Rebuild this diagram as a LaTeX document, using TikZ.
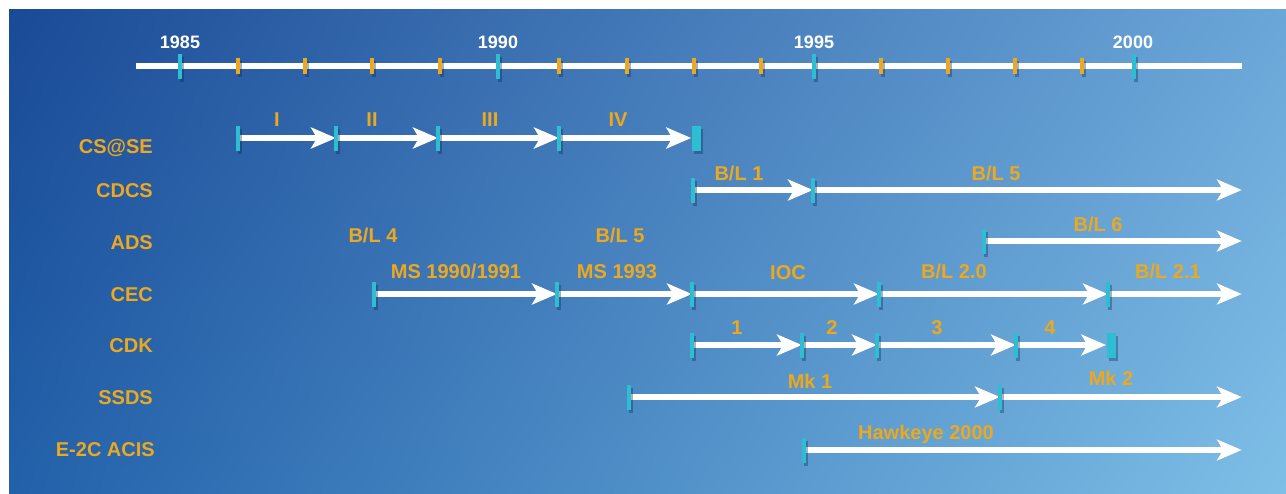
\documentclass[tikz,border=0pt]{standalone}
\usepackage{fontspec}
\setmainfont{Liberation Sans}
\usetikzlibrary{arrows.meta,shadows,shadings}
\definecolor{bgUL}{HTML}{1A4A96}
\definecolor{bgLL}{HTML}{2261AA}
\definecolor{bgUR}{HTML}{6BA6D8}
\definecolor{bgLR}{HTML}{7EBFE7}
\definecolor{gold}{HTML}{EDA81E}
\definecolor{tickc}{HTML}{2DBED4}
\definecolor{shad}{HTML}{0B2452}
\pgfdeclarelayer{deep}
\pgfdeclarelayer{back}
\pgfsetlayers{deep,back,main}
\tikzset{
  lbl/.style={font=\bfseries\fontsize{20}{20}\selectfont, text=gold, inner sep=0pt, text height=14.3pt, text depth=0pt},
  rowlbl/.style={lbl, anchor=east},
  yr/.style={font=\bfseries\fontsize{18}{18}\selectfont, text=white, inner sep=0pt, text height=12.9pt, text depth=0pt},
  seg/.style={draw=white, line width=6pt, -{Stealth[length=25pt,width=21pt,inset=6pt]}},
  segsh/.style={seg, draw=shad, opacity=.35, shift={(2,3)}},
  plainline/.style={draw=white, line width=6pt},
  plainsh/.style={plainline, draw=shad, opacity=.35, shift={(2,3)}},
  tsh/.style={drop shadow={shadow xshift=2pt, shadow yshift=-3pt, opacity=.35, fill=shad}},
  majtick/.style={rectangle, fill=tickc, minimum width=4pt, minimum height=25pt, inner sep=0pt, tsh},
  mintick/.style={rectangle, fill=gold, minimum width=3.5pt, minimum height=16pt, inner sep=0pt, tsh},
  rtick/.style={rectangle, fill=tickc, minimum width=4.5pt, minimum height=25pt, inner sep=0pt, tsh},
  endbar/.style={rectangle, fill=tickc, minimum width=9pt, minimum height=25pt, inner sep=0pt, tsh}
}
\newcommand\myarrow[2]{%
  \draw[segsh] (#1) -- (#2);
  \draw[seg] (#1) -- (#2);}
\begin{document}
\begin{tikzpicture}[x=1pt,y=-1pt]
\useasboundingbox (0,0) rectangle (1286,493);
\begin{pgfonlayer}{deep}
  \fill[white] (0,0) rectangle (1286,493);
  \shade[upper left=bgUL, upper right=bgUR, lower left=bgLL, lower right=bgLR] (9,9) rectangle (1286,493);
\end{pgfonlayer}

% time axis
\coordinate (axL) at (136,66);
\coordinate (axR) at (1242,66);
\begin{pgfonlayer}{back}
  \draw[plainsh] (axL) -- (axR);
  \draw[plainline] (axL) -- (axR);
\end{pgfonlayer}
\foreach \x/\n in {180/m85,498/m90,814/m95,1134/m00}
  \node[majtick] (\n) at (\x,66) {};
\foreach \x [count=\i] in {238,305,372,440,559,627,694,761,881,948,1015,1082}
  \node[mintick] (n\i) at (\x,66) {};
\node[yr] (y85) at (180,42) {1985};
\node[yr] (y90) at (498,42) {1990};
\node[yr] (y95) at (814,42) {1995};
\node[yr] (y00) at (1133,42) {2000};

% row labels
\node[rowlbl] (rCS) at (153,146) {CS@SE};
\node[rowlbl] (rCD) at (153,190) {CDCS};
\node[rowlbl] (rAD) at (153,242) {ADS};
\node[rowlbl] (rCE) at (153,294) {CEC};
\node[rowlbl] (rCK) at (153,345) {CDK};
\node[rowlbl] (rSS) at (153,397) {SSDS};
\node[rowlbl] (rAC) at (155,449) {E-2C ACIS};

% CS@SE
\node[rtick] (cs0) at (238,138) {};
\node[rtick] (cs1) at (336,138) {};
\node[rtick] (cs2) at (438,138) {};
\node[rtick] (cs3) at (559,138) {};
\node[endbar] (cs4) at (696,138) {};
% CDCS
\node[rtick] (cd0) at (693,190) {};
\node[rtick] (cd1) at (813,190) {};
\coordinate (cdE) at (1242,190);
% ADS
\node[rtick] (ad0) at (984,241) {};
\coordinate (adE) at (1242,241);
% CEC
\node[rtick] (ce0) at (374,294) {};
\node[rtick] (ce1) at (557,294) {};
\node[rtick] (ce2) at (692,294) {};
\node[rtick] (ce3) at (879,294) {};
\node[rtick] (ce4) at (1108,294) {};
\coordinate (ceE) at (1242,294);
% CDK
\node[rtick] (ck0) at (692,345) {};
\node[rtick] (ck1) at (802,345) {};
\node[rtick] (ck2) at (877,345) {};
\node[rtick] (ck3) at (1016,345) {};
\node[endbar] (ck4) at (1111,345) {};
% SSDS
\node[rtick] (ss0) at (629,397) {};
\node[rtick] (ss1) at (1000,397) {};
\coordinate (ssE) at (1242,397);
% E-2C ACIS
\node[rtick] (ac0) at (804,450) {};
\coordinate (acE) at (1242,450);

\begin{pgfonlayer}{back}
  \myarrow{cs0.center}{cs1.center}
  \myarrow{cs1.center}{cs2.center}
  \myarrow{cs2.center}{cs3.center}
  \myarrow{cs3.center}{cs4.west}
  \myarrow{cd0.center}{cd1.center}
  \myarrow{cd1.center}{cdE}
  \myarrow{ad0.center}{adE}
  \myarrow{ce0.center}{ce1.center}
  \myarrow{ce1.center}{ce2.center}
  \myarrow{ce2.center}{ce3.center}
  \myarrow{ce3.center}{ce4.center}
  \myarrow{ce4.center}{ceE}
  \myarrow{ck0.center}{ck1.center}
  \myarrow{ck1.center}{ck2.center}
  \myarrow{ck2.center}{ck3.center}
  \myarrow{ck3.center}{ck4.west}
  \myarrow{ss0.center}{ss1.center}
  \myarrow{ss1.center}{ssE}
  \myarrow{ac0.center}{acE}
\end{pgfonlayer}

% segment labels
\node[lbl] (lI)   at (277,119) {I};
\node[lbl] (lII)  at (372,119) {II};
\node[lbl] (lIII) at (490,119) {III};
\node[lbl] (lIV)  at (618,119) {IV};
\node[lbl] (lB1)  at (739,173) {B/L 1};
\node[lbl] (lB5a) at (996,173) {B/L 5};
\node[lbl] (lB6)  at (1098,224) {B/L 6};
\node[lbl] (lB4)  at (373,235) {B/L 4};
\node[lbl] (lB5b) at (620,235) {B/L 5};
\node[lbl] (lMS1) at (456,271) {MS 1990/1991};
\node[lbl] (lMS2) at (617,271) {MS 1993};
\node[lbl] (lIOC) at (788,272) {IOC};
\node[lbl] (lB20) at (954,271) {B/L 2.0};
\node[lbl] (lB21) at (1168,271) {B/L 2.1};
\node[lbl] (lk1)  at (737,327) {1};
\node[lbl] (lk2)  at (832,327) {2};
\node[lbl] (lk3)  at (937,327) {3};
\node[lbl] (lk4)  at (1050,327) {4};
\node[lbl] (lMk1) at (810,381) {Mk 1};
\node[lbl] (lMk2) at (1111,378) {Mk 2};
\node[lbl] (lHk)  at (926,432) {Hawkeye 2000};
\end{tikzpicture}
\end{document}
